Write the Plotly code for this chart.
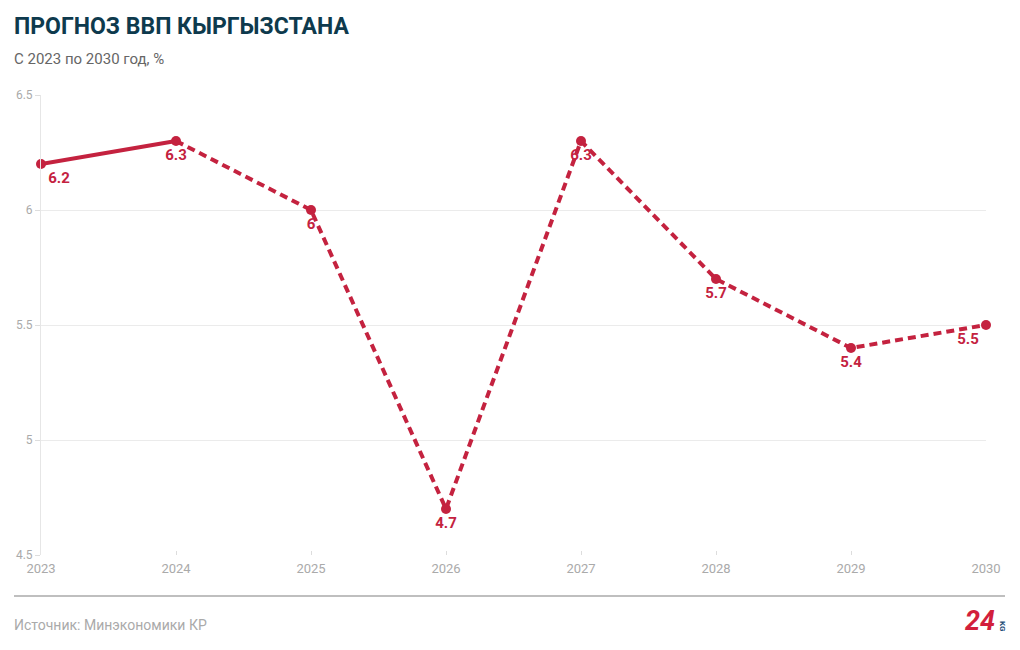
import plotly.graph_objects as go

years = [2023, 2024, 2025, 2026, 2027, 2028, 2029, 2030]
gdp = [6.2, 6.3, 6.0, 4.7, 6.3, 5.7, 5.4, 5.5]
labels = ["6.2", "6.3", "6", "4.7", "6.3", "5.7", "5.4", "5.5"]
y_ticks = [4.5, 5, 5.5, 6, 6.5]
y_tick_text = ["4.5", "5", "5.5", "6", "6.5"]

RED = "#c4223f"
fig = go.Figure()

# solid part (actual)
fig.add_trace(go.Scatter(
    x=years[:2], y=gdp[:2], mode="lines",
    line=dict(color=RED, width=4), hoverinfo="skip", showlegend=False))
# dashed part (forecast)
fig.add_trace(go.Scatter(
    x=years[1:], y=gdp[1:], mode="lines",
    line=dict(color=RED, width=4, dash="8px,5px"), hoverinfo="skip", showlegend=False))

positions = ["bottom right"] + ["bottom center"] * 6 + ["bottom left"]
fig.add_trace(go.Scatter(
    x=years, y=gdp, mode="markers+text",
    marker=dict(color=RED, size=10),
    text=labels, textposition=positions,
    textfont=dict(family="Roboto", size=15, color=RED, weight="bold"),
    cliponaxis=False, showlegend=False))

fig.update_layout(
    width=1020, height=650,
    margin=dict(l=41, r=34, t=95, b=95),
    paper_bgcolor="white", plot_bgcolor="white",
    font=dict(family="Roboto", color="#aaaaaa", size=12),
    xaxis=dict(range=[2023, 2030], tickvals=years, ticktext=[str(y) for y in years],
               showgrid=False, showline=False, ticks="inside", ticklen=4,
               tickcolor="#dddddd", zeroline=False, ticklabelstandoff=4,
               tickfont=dict(family="Roboto", size=13, color="#aaaaaa")),
    yaxis=dict(range=[4.5, 6.5], tickvals=y_ticks, ticktext=y_tick_text,
               showgrid=True, gridcolor="#ebebeb", gridwidth=1,
               showline=True, linecolor="#e6e6e6", linewidth=1,
               ticks="outside", ticklen=5, tickcolor="#dddddd", zeroline=False,
               tickfont=dict(family="Roboto", size=12, color="#aaaaaa")),
)

fig.add_annotation(text="<b>ПРОГНОЗ ВВП КЫРГЫЗСТАНА</b>", xref="paper", yref="paper",
                   x=-29/945, y=1 + (95 - 26) / 460, xanchor="left", yanchor="middle",
                   showarrow=False, font=dict(family="Roboto", size=23, color="#0e3a4d"))
fig.add_annotation(text="С 2023 по 2030 год, %", xref="paper", yref="paper",
                   x=-29/945, y=1 + (95 - 59) / 460, xanchor="left", yanchor="middle",
                   showarrow=False, font=dict(family="Roboto", size=15, color="#666666"))
fig.add_annotation(text="Источник: Минэкономики КР", xref="paper", yref="paper",
                   x=-29/945, y=-(625 - 555) / 460, xanchor="left", yanchor="middle",
                   showarrow=False, font=dict(family="Roboto", size=14, color="#aaaaaa"))
fig.add_shape(type="line", xref="paper", yref="paper",
              x0=-27/945, x1=(1005 - 41) / 945, y0=-(596 - 555) / 460, y1=-(596 - 555) / 460,
              line=dict(color="#aaaaaa", width=1.5))
# logo
fig.add_annotation(text="<b><i>24</i></b>", xref="paper", yref="paper",
                   x=(997 - 41) / 945, y=-(621 - 555) / 460, xanchor="right", yanchor="middle",
                   showarrow=False, font=dict(family="Roboto", size=27, color="#d21f3c"))
fig.add_annotation(text="<b>KG</b>", xref="paper", yref="paper",
                   x=(1003 - 41) / 945, y=-(626 - 555) / 460, xanchor="center", yanchor="middle",
                   textangle=90, showarrow=False,
                   font=dict(family="Roboto", size=8, color="#1f4e79"))

fig.write_html("out.html")
